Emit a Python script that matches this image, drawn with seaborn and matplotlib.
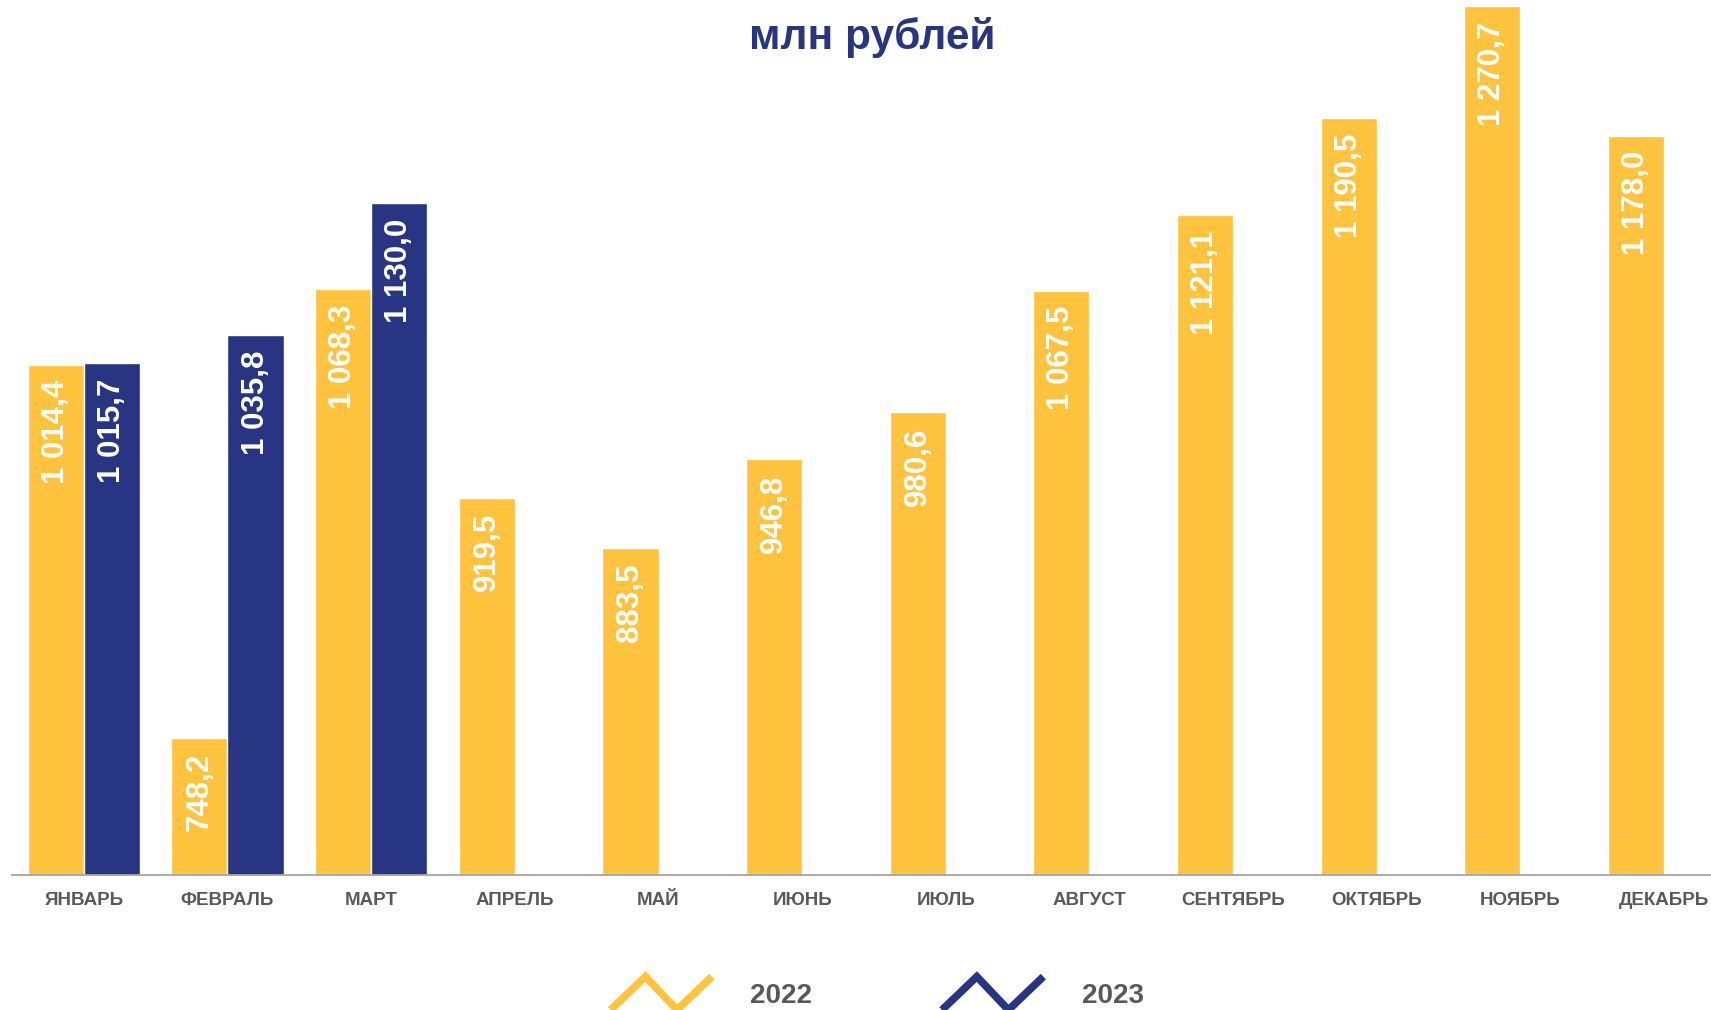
import pandas as pd
from matplotlib import pyplot as plt
from matplotlib.lines import Line2D
from matplotlib.legend_handler import HandlerBase
import seaborn as sns

months = ["ЯНВАРЬ", "ФЕВРАЛЬ", "МАРТ", "АПРЕЛЬ", "МАЙ", "ИЮНЬ",
          "ИЮЛЬ", "АВГУСТ", "СЕНТЯБРЬ", "ОКТЯБРЬ", "НОЯБРЬ", "ДЕКАБРЬ"]
years = ["2022", "2023"]
values_2022 = [1014.4, 748.2, 1068.3, 919.5, 883.5, 946.8,
               980.6, 1067.5, 1121.1, 1190.5, 1270.7, 1178.0]
values_2023 = [1015.7, 1035.8, 1130.0]
colors = ["#FFC33E", "#283583"]
grey = "#595959"


class ZigzagHandler(HandlerBase):
    def create_artists(self, legend, orig_handle, xdescent, ydescent,
                       width, height, fontsize, trans):
        yc = height / 2 - ydescent
        h = 24
        xs = [-xdescent + width * f for f in (0.02, 0.35, 0.65, 0.98)]
        ys = [yc - h / 2, yc + h / 2, yc - h / 2, yc + h / 2]
        line = Line2D(xs, ys, color=orig_handle.get_color(), lw=5.5,
                      solid_joinstyle="miter", solid_capstyle="butt",
                      transform=trans)
        return [line]


def fmt(v):
    return f"{v:,.1f}".replace(",", " ").replace(".", ",")


def chart():
    df = pd.DataFrame({
        "month": months + months[:len(values_2023)],
        "year": ["2022"] * len(values_2022) + ["2023"] * len(values_2023),
        "value": values_2022 + values_2023,
    })

    sns.set_style("white")
    plt.rcParams["font.family"] = ["Liberation Sans", "DejaVu Sans"]

    fig = plt.figure(figsize=(17.11, 10.10), dpi=100)
    ax = fig.add_axes([12 / 1711, 135 / 1010, 1724 / 1711, 910 / 1010])

    sns.barplot(data=df, x="month", y="value", hue="year", order=months,
                hue_order=years, palette=colors, width=0.78, saturation=1,
                errorbar=None, legend=False, ax=ax)

    for cont in ax.containers:
        for p in cont:
            v = p.get_height()
            ax.annotate(fmt(v), (p.get_x() + p.get_width() / 2, v),
                        xytext=(0, -11), textcoords="offset points",
                        rotation=90, ha="center", va="top", color="white",
                        fontsize=22.5, fontweight="bold")

    ax.set_ylim(650, 1300)
    ax.set_xlim(-0.5, 11.5)
    ax.set_xlabel("")
    ax.set_ylabel("")
    ax.set_yticks([])
    for s in ["top", "right", "left"]:
        ax.spines[s].set_visible(False)
    ax.spines["bottom"].set_color("#A6A6A6")
    ax.spines["bottom"].set_linewidth(1.3)
    ax.tick_params(axis="x", length=0, pad=12, labelsize=13.5, labelcolor=grey)
    for t in ax.get_xticklabels():
        t.set_fontweight("bold")

    fig.text(872 / 1711, 1 - 38 / 1010, "млн рублей", ha="center", va="center",
             fontsize=30.5, fontweight="bold", color=colors[1])

    handles = [Line2D([], [], color=c) for c in colors]
    fig.legend(handles, years, handler_map={Line2D: ZigzagHandler()},
               loc="center", bbox_to_anchor=(876 / 1711, 1 - 996 / 1010),
               ncol=2, frameon=False, labelcolor=grey,
               prop={"weight": "bold", "size": 20},
               handlelength=3.8, handletextpad=1.3, columnspacing=4.6,
               borderpad=0)

    fig.savefig("out.png", dpi=100)


if __name__ == "__main__":
    chart()
